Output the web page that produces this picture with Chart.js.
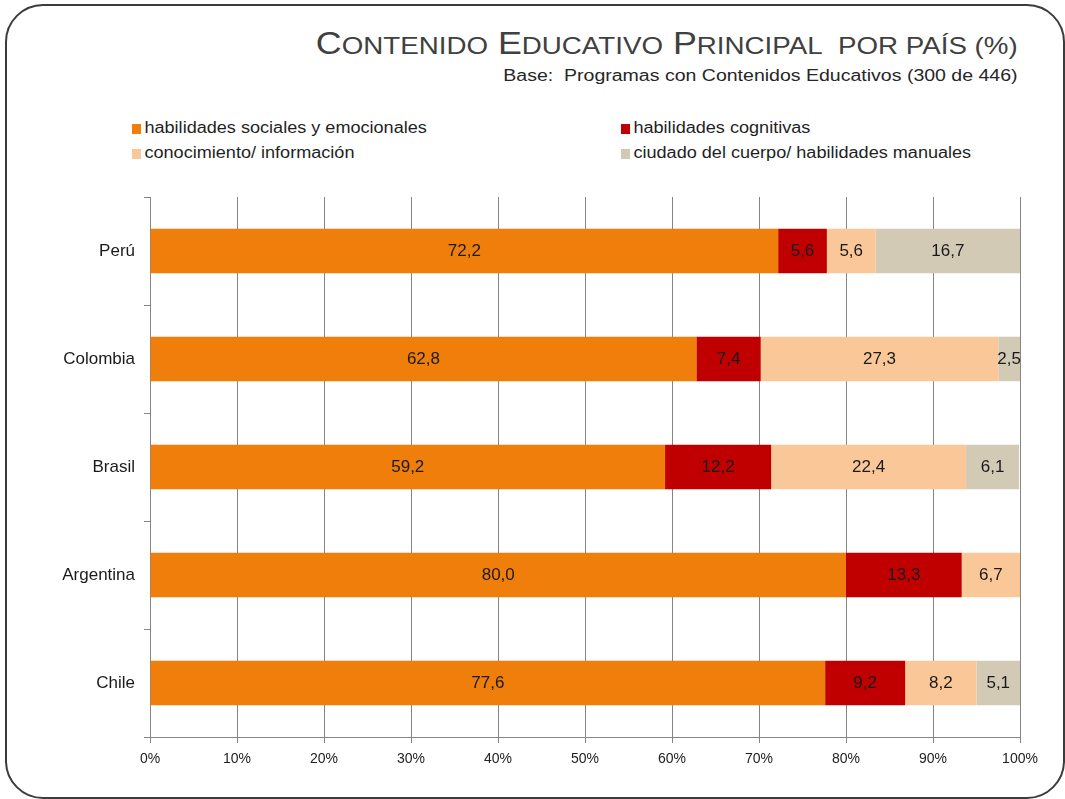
<!DOCTYPE html>
<html>
<head>
<meta charset="utf-8">
<script src="https://cdn.jsdelivr.net/npm/chart.js@4.4.1/dist/chart.umd.min.js"></script>
<style>
  html, body { margin: 0; padding: 0; background: #fff; }
  body { width: 1065px; height: 799px; position: relative; overflow: hidden; font-family: "Liberation Sans", Arial, sans-serif; }
  #frame { position: absolute; left: 5px; top: 4px; width: 1060px; height: 795px; box-sizing: border-box;
           border: 2px solid #3c3c3c; border-radius: 38px; }
  #chart { position: absolute; left: 0; top: 0; }
  #title { position: absolute; right: 47px; top: 29px; white-space: nowrap; color: #404040;
           font-size: 31px; line-height: 30px; transform: scaleX(1.155); transform-origin: right center; }
  #title .sm { font-size: 24px; }
  #subtitle { position: absolute; right: 47px; top: 67px; white-space: nowrap; color: #262626;
              font-size: 16px; line-height: 18px; transform: scaleX(1.22); transform-origin: right center; }
  .leg { position: absolute; white-space: nowrap; font-size: 16px; line-height: 18px; color: #1f1f1f;
         transform: scaleX(1.13); transform-origin: left center; }
  .leg i { display: inline-block; width: 8px; height: 10px; margin-right: 3px; vertical-align: -1px; }
</style>
</head>
<body>
<div id="frame"></div>
<div id="title">C<span class="sm">ONTENIDO</span> E<span class="sm">DUCATIVO</span> P<span class="sm">RINCIPAL&nbsp; POR PAÍS (%)</span></div>
<div id="subtitle">Base:&nbsp; Programas con Contenidos Educativos (300 de 446)</div>
<div id="legend"></div>
<canvas id="chart" width="1065" height="799"></canvas>
<script>
// Categories and series (percent per country)
const countries = ['Perú', 'Colombia', 'Brasil', 'Argentina', 'Chile'];
const seriesNames = [
  'habilidades sociales y emocionales',
  'habilidades cognitivas',
  'conocimiento/ información',
  'ciudado del cuerpo/ habilidades manuales'
];
const socioEmocional = [72.2, 62.8, 59.2, 80.0, 77.6];
const cognitivas = [5.6, 7.4, 12.2, 13.3, 9.2];
const conocimiento = [5.6, 27.3, 22.4, 6.7, 8.2];
const cuerpo = [16.7, 2.5, 6.1, 0, 5.1];
const seriesColors = ['#EF7F0A', '#C00000', '#FAC898', '#D3CAB6'];
const xTicks = [0, 10, 20, 30, 40, 50, 60, 70, 80, 90, 100];

// HTML legend, two columns
const legendPos = [[132, 119], [621, 119], [132, 144], [621, 144]];
const legendEl = document.getElementById('legend');
seriesNames.forEach((name, i) => {
  const d = document.createElement('div');
  d.className = 'leg';
  d.style.left = legendPos[i][0] + 'px';
  d.style.top = legendPos[i][1] + 'px';
  d.innerHTML = '<i style="background:' + seriesColors[i] + '"></i>' + name;
  legendEl.appendChild(d);
});

// Value labels centred in each segment
const segmentLabels = {
  id: 'segmentLabels',
  afterDatasetsDraw(chart) {
    const ctx = chart.ctx;
    ctx.save();
    ctx.font = '17px "Liberation Sans", Arial, sans-serif';
    ctx.fillStyle = '#1a1a1a';
    ctx.textAlign = 'center';
    ctx.textBaseline = 'middle';
    chart.data.datasets.forEach((ds, di) => {
      const meta = chart.getDatasetMeta(di);
      meta.data.forEach((bar, i) => {
        const v = ds.data[i];
        if (!v) return;
        const xe = Math.min(bar.x, chart.chartArea.right);
        const xc = (xe + bar.base) / 2;
        ctx.fillText(v.toFixed(1).replace('.', ','), xc, bar.y);
      });
    });
    ctx.restore();
  }
};

const allSeries = [socioEmocional, cognitivas, conocimiento, cuerpo];

new Chart(document.getElementById('chart'), {
  type: 'bar',
  data: {
    labels: countries,
    datasets: allSeries.map((values, i) => ({
      label: seriesNames[i],
      data: values,
      backgroundColor: seriesColors[i],
      borderWidth: 0,
      categoryPercentage: 1,
      barPercentage: 0.41
    }))
  },
  options: {
    indexAxis: 'y',
    responsive: false,
    animation: false,
    devicePixelRatio: 1,
    layout: { padding: { top: 197, right: 45, left: 0, bottom: 0 } },
    plugins: {
      legend: { display: false },
      tooltip: { enabled: false }
    },
    scales: {
      x: {
        stacked: true,
        min: 0,
        max: 100,
        afterBuildTicks: scale => { scale.ticks = xTicks.map(v => ({ value: v })); },
        afterFit: scale => { scale.height = 62; },
        grid: { color: '#858585', lineWidth: 1, tickLength: 6, drawOnChartArea: true },
        border: { color: '#858585', width: 1 },
        ticks: {
          callback: v => v + '%',
          color: '#222',
          font: { size: 14, family: '"Liberation Sans", Arial, sans-serif' },
          padding: 8,
          maxRotation: 0
        }
      },
      y: {
        stacked: true,
        afterFit: scale => { scale.width = 150; },
        grid: { color: '#858585', tickLength: 6, drawOnChartArea: false, offset: true },
        border: { color: '#858585', width: 1 },
        ticks: {
          color: '#1a1a1a',
          font: { size: 17, family: '"Liberation Sans", Arial, sans-serif' },
          padding: 9
        }
      }
    }
  },
  plugins: [segmentLabels]
});
</script>
</body>
</html>
